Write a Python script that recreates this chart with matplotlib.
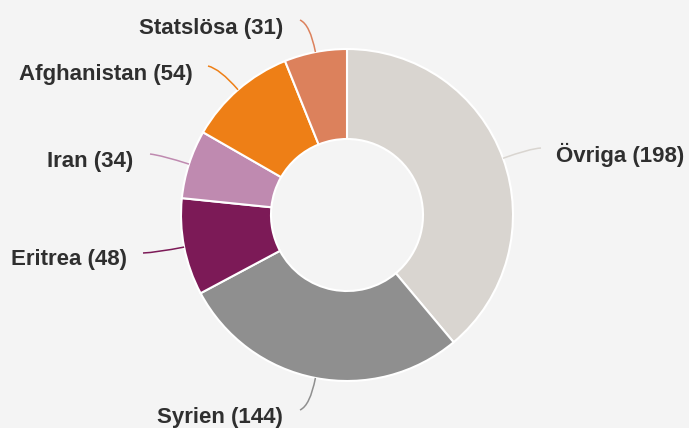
import numpy as np
import matplotlib.pyplot as plt
from matplotlib.path import Path
from matplotlib.patches import PathPatch

# data (clockwise from 12 o'clock)
labels = ['Övriga', 'Syrien', 'Eritrea', 'Iran', 'Afghanistan', 'Statslösa']
values = [198, 144, 48, 34, 54, 31]
colors = ['#d9d5d0', '#8f8f8f', '#7c1a57', '#bf8ab0', '#ee7f16', '#dc815c']

# layout, in pixels (y measured from the bottom)
W, H = 689, 428
cx, cy, R, r_in = 347, 213, 166, 76
# label anchor (x, y), side; connector end point
labPos = [(556, 273, 'left'), (283, 11, 'right'), (127, 169, 'right'),
          (133, 267, 'right'), (193, 354, 'right'), (283, 400, 'right')]
lineEnd = [(541, 280), (300, 18), (143, 175), (150, 274), (208, 362), (300, 408)]

fig = plt.figure(figsize=(W/100, H/100), dpi=100)
fig.patch.set_facecolor('#f4f4f4')
ax = fig.add_axes([0, 0, 1, 1])
ax.set_facecolor('#f4f4f4')

wedges, _ = ax.pie(values, colors=colors, startangle=90, counterclock=False,
                   radius=R, center=(cx, cy), frame=True,
                   wedgeprops=dict(width=R-r_in, edgecolor='white', linewidth=1.5))
ax.set_xlim(0, W)
ax.set_ylim(0, H)
ax.set_aspect('equal')
ax.axis('off')

total = float(sum(values))
start = 90.
for i, v in enumerate(values):
  span = v/total*360.
  mid = np.deg2rad(start - span/2)
  start -= span
  p0 = (cx + R*np.cos(mid), cy + R*np.sin(mid))
  pc = (cx + (R+28)*np.cos(mid), cy + (R+28)*np.sin(mid))
  p1 = lineEnd[i]
  path = Path([p0, pc, p1], [Path.MOVETO, Path.CURVE3, Path.CURVE3])
  ax.add_patch(PathPatch(path, fc='none', ec=colors[i], lw=1.1))
  x, y, side = labPos[i]
  ax.text(x, y, '%s (%d)' % (labels[i], v), ha=side, va='center',
          fontsize=16, fontweight='bold', color='#2f2f2f', family='Liberation Sans')

fig.savefig('out.png', dpi=100, facecolor=fig.get_facecolor())
